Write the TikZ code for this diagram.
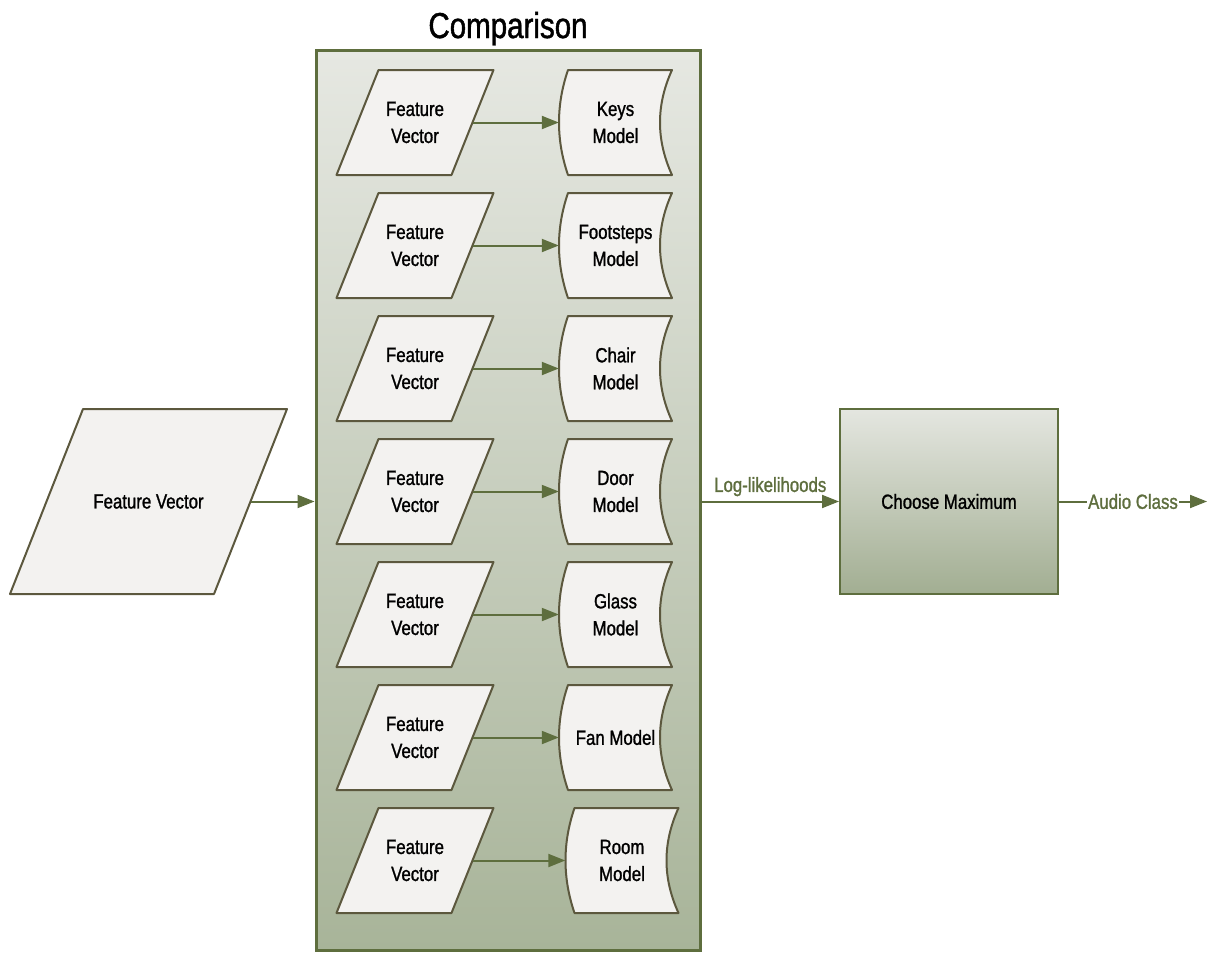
\documentclass[tikz,border=0pt]{standalone}
\usepackage{fontspec}
\setmainfont[FakeStretch=0.82, FakeBold=1.2]{Liberation Sans}
\usetikzlibrary{arrows.meta, calc, positioning}
\definecolor{flowgreen}{RGB}{94,110,62}
\definecolor{edgebrown}{RGB}{92,88,62}
\definecolor{paperfill}{RGB}{243,242,240}
\definecolor{frametop}{RGB}{230,232,226}
\definecolor{framebot}{RGB}{168,180,153}
\definecolor{boxtop}{RGB}{228,230,224}
\definecolor{boxbot}{RGB}{162,174,146}

\begin{document}
\begin{tikzpicture}[
          x=1pt, y=-1pt,
          >={Triangle[length=17pt,width=13pt]},
          txt/.style={font=\fontsize{20.5}{27}\selectfont, align=center, text=black},
          flowtext/.style={font=\fontsize{20.5}{24}\selectfont, text=flowgreen},
          feat/.style={txt, rectangle, inner sep=0pt},
          model/.style={txt, rectangle, minimum width=113pt, minimum height=105pt, inner sep=0pt},
          shapeedge/.style={draw=edgebrown, line width=2pt, fill=paperfill, line join=round},
          flow/.style={flowgreen, line width=2pt, ->},
        ]
        \useasboundingbox (0,0) rectangle (1219,953);

        % Comparison frame and its title
        \node[draw=flowgreen, line width=3pt, top color=frametop, bottom color=framebot,
              minimum width=384pt, minimum height=900pt, inner sep=0pt] (cmp) at (508,500) {};
        \node[anchor=base, font=\fontsize{36}{40}\selectfont] (cmptitle) at (508,38) {Comparison};

        % One feature vector and one model per row
        \foreach \lab/\dx [count=\i] in {Keys\\Model/0, Footsteps\\Model/0, Chair\\Model/0,
                                         Door\\Model/0, Glass\\Model/0, Fan Model/0, Room\\Model/6.5} {
          \pgfmathsetmacro{\yy}{122.5+123*(\i-1)}
          % parallelogram: body 115 wide, sides slanted by 42
          \coordinate (fc\i) at (415,\yy);
          \filldraw[shapeedge]
            ($(fc\i)+(-36.5,-52.5)$) -- ($(fc\i)+(78.5,-52.5)$)
            -- ($(fc\i)+(36.5,52.5)$) -- ($(fc\i)+(-78.5,52.5)$) -- cycle;
          \node[feat, minimum width=115pt, minimum height=105pt] (fv\i) at (fc\i) {Feature\\Vector};
          % stored-data shape, both sides bowed to the left
          \coordinate (mc\i) at (615.5+\dx,\yy);
          \filldraw[shapeedge]
            ($(mc\i)+(-47.5,-52.5)$) .. controls +(-12,35) and +(-12,-35) .. ($(mc\i)+(-47.5,52.5)$)
            -- ($(mc\i)+(56.5,52.5)$) .. controls +(-16,-35) and +(-16,35) .. ($(mc\i)+(56.5,-52.5)$)
            -- cycle;
          \node[model] (m\i) at (mc\i) {\lab};
          \draw[flow] (fv\i.east) -- (m\i.west);
        }

        % Input, decision and output
        \coordinate (fvc) at (148.5,501.5);
        \filldraw[shapeedge]
          ($(fvc)+(-65.5,-92.5)$) -- ($(fvc)+(138.5,-92.5)$)
          -- ($(fvc)+(65.5,92.5)$) -- ($(fvc)+(-138.5,92.5)$) -- cycle;
        \node[feat, minimum width=204pt, minimum height=185pt] (fv) at (fvc) {Feature Vector};
        \node[txt, draw=flowgreen, line width=2pt, top color=boxtop, bottom color=boxbot,
              minimum width=218pt, minimum height=185pt] (cm) at (949,501.5) {Choose Maximum};
        \coordinate (out) at (1207,501.5);

        \draw[flow] (fv.east) -- (fv.east -| cmp.west);
        \draw[flow] (cmp.east |- cm.west) -- node[above=1pt, flowtext] {Log-likelihoods} (cm.west);
        \draw[flow] (cm.east) -- node[fill=white, inner sep=1pt, flowtext] {Audio Class} (out);
        \end{tikzpicture}
\end{document}
